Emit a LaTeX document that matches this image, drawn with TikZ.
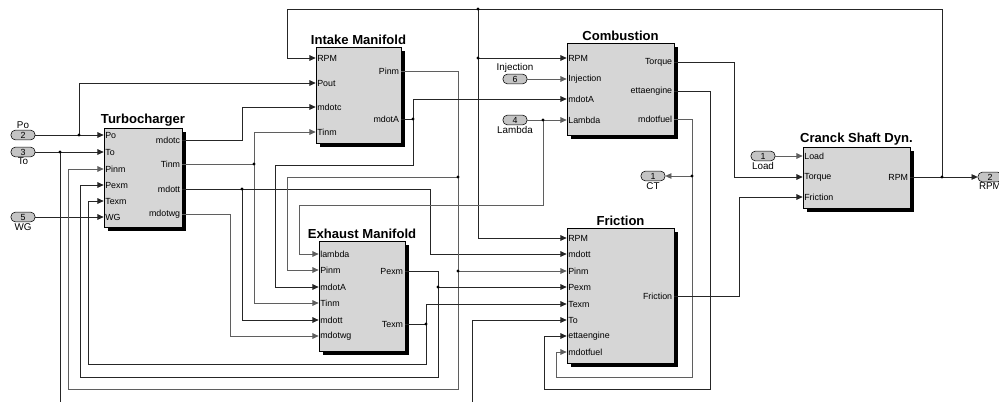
\documentclass[tikz,border=0pt]{standalone}
\usepackage{fontspec}
\setmainfont{Liberation Sans}
\usepackage{tikz}
\usetikzlibrary{arrows.meta, positioning, shadows}
\definecolor{grisBloque}{RGB}{214,214,214}
\definecolor{grisPuerto}{RGB}{196,196,196}
\definecolor{grisLinea}{RGB}{95,95,95}

\tikzset{
  bloque/.style={draw=black, fill=grisBloque, line width=0.5pt, inner sep=0pt,
    drop shadow={shadow xshift=2.6pt, shadow yshift=-2.6pt, opacity=1, fill=black}},
  titulo/.style={font=\bfseries\fontsize{9.3}{10}\selectfont, inner sep=1pt},
  ent/.style={anchor=west, inner sep=1pt, font=\fontsize{6.3}{7}\selectfont},
  sal/.style={anchor=east, inner sep=1.4pt, font=\fontsize{6.3}{7}\selectfont},
  puerto/.style={draw=black, fill=grisPuerto, rounded corners=3pt, minimum width=0.6cm,
    minimum height=0.24cm, inner sep=0pt, font=\fontsize{6.3}{7}\selectfont},
  etiq/.style={font=\fontsize{7}{8}\selectfont, inner sep=0.6pt},
  cable/.style={draw=black!85, line width=0.6pt},
  cablegris/.style={draw=grisLinea, line width=0.6pt},
  flecha/.style={-{Triangle[length=4.4pt,width=4pt]}},
}

\begin{document}
\begin{tikzpicture}[x=0.025cm, y=-0.025cm]
  \useasboundingbox (0,0) rectangle (999,401);

  % Bloques
  \node[bloque, minimum width=1.95cm, minimum height=2.475cm,
    label={[titulo]above:Turbocharger}] (tc) at (143,177.5) {};
  \node[bloque, minimum width=2.125cm, minimum height=2.4cm,
    label={[titulo]above:Intake Manifold}] (im) at (358.5,95) {};
  \node[bloque, minimum width=2.15cm, minimum height=2.75cm,
    label={[titulo]above:Exhaust Manifold}] (em) at (362,296) {};
  \node[bloque, minimum width=2.675cm, minimum height=2.3cm,
    label={[titulo]above:Combustion}] (cb) at (620.5,89) {};
  \node[bloque, minimum width=2.675cm, minimum height=3.375cm,
    label={[titulo]above:Friction}] (fr) at (620.5,295.5) {};
  \node[bloque, minimum width=2.675cm, minimum height=1.525cm,
    label={[titulo]above:Cranck Shaft Dyn.}] (cs) at (856.5,177.5) {};

  % Puertos de los bloques
  \foreach \nm/\yy in {Po/135, To/152, Pinm/169, Pexm/185, Texm/201, WG/217}
    \node[ent] (tc-\nm) at (tc.west |- 0,\yy) {\nm};
  \foreach \nm/\yy in {mdotc/140, Tinm/164, mdott/189, mdotwg/214}
    \node[sal] (tc-\nm) at (tc.east |- 0,\yy) {\nm};
  \foreach \nm/\yy in {RPM/58, Pout/83, mdotc/107, Tinm/132}
    \node[ent] (im-\nm) at (im.west |- 0,\yy) {\nm};
  \foreach \nm/\yy in {Pinm/71, mdotA/119}
    \node[sal] (im-\nm) at (im.east |- 0,\yy) {\nm};
  \foreach \nm/\yy in {lambda/254, Pinm/270, mdotA/287, Tinm/303, mdott/320, mdotwg/336}
    \node[ent] (em-\nm) at (em.west |- 0,\yy) {\nm};
  \foreach \nm/\yy in {Pexm/271, Texm/324}
    \node[sal] (em-\nm) at (em.east |- 0,\yy) {\nm};
  \foreach \nm/\yy in {RPM/58, Injection/79, mdotA/99, Lambda/120}
    \node[ent] (cb-\nm) at (cb.west |- 0,\yy) {\nm};
  \foreach \nm/\yy in {Torque/62, ettaengine/91, mdotfuel/119}
    \node[sal] (cb-\nm) at (cb.east |- 0,\yy) {\nm};
  \foreach \nm/\yy in {RPM/238, mdott/254, Pinm/271, Pexm/287, Texm/304, To/320, ettaengine/336, mdotfuel/352}
    \node[ent] (fr-\nm) at (fr.west |- 0,\yy) {\nm};
  \node[sal] (fr-Friction) at (fr.east |- 0,296) {Friction};
  \foreach \nm/\yy in {Load/156, Torque/177, Friction/197}
    \node[ent] (cs-\nm) at (cs.west |- 0,\yy) {\nm};
  \node[sal] (cs-RPM) at (cs.east |- 0,177) {RPM};

  % Entradas y salidas externas
  \node[puerto, label={[etiq]above:Po}] (in-po) at (23,135) {2};
  \node[puerto, label={[etiq]below:To}] (in-to) at (23,152) {3};
  \node[puerto, label={[etiq]below:WG}] (in-wg) at (23,217) {5};
  \node[puerto, label={[etiq]above:Injection}] (in-inj) at (515,79) {6};
  \node[puerto, label={[etiq]below:Lambda}] (in-lam) at (515,120) {4};
  \node[puerto, label={[etiq]below:Load}] (in-load) at (763,156) {1};
  \node[puerto, label={[etiq]below:CT}] (out-ct) at (653,176) {1};
  \node[puerto, label={[etiq]below:RPM}] (out-rpm) at (990,177) {2};

  % Nudos
  \coordinate (jPo) at (79,135);
  \coordinate (jTo) at (60,152);
  \coordinate (finTo) at (60,405);
  \coordinate (finToB) at (472,405);
  \coordinate (jTinm) at (254,164);
  \coordinate (jMdott) at (242,189);
  \coordinate (jPinmA) at (458,177);
  \coordinate (jPinmB) at (458,271);
  \coordinate (jMdotA) at (413,119);
  \coordinate (jRpm) at (942,177);
  \coordinate (jRpmA) at (478,9);
  \coordinate (jRpmB) at (478,58);
  \coordinate (jLam) at (543,120);
  \coordinate (jFuel) at (692,176);
  \coordinate (jPexm) at (438,287);
  \coordinate (jTexm) at (426,324);

  % Turbocharger
  \draw[cable, flecha] (in-po) -- (tc-Po.west);
  \draw[cable, flecha] (jPo) |- (im-Pout.west);
  \draw[cable, flecha] (in-to) -- (tc-To.west);
  \draw[cable] (jTo) -- (finTo);
  \draw[cable, flecha] (in-wg) -- (tc-WG.west);
  \draw[cable, flecha] (tc-mdotc.east) -- (242,140) |- (im-mdotc.west);
  \draw[cablegris] (tc-Tinm.east) -- (jTinm);
  \draw[cablegris, flecha] (jTinm) |- (im-Tinm.west);
  \draw[cablegris, flecha] (jTinm) |- (em-Tinm.west);
  \draw[cable, flecha] (tc-mdott.east) -- (430,189) |- (fr-mdott.west);
  \draw[cable, flecha] (jMdott) |- (em-mdott.west);
  \draw[cablegris, flecha] (tc-mdotwg.east) -- (230,214) |- (em-mdotwg.west);

  % Intake Manifold
  \draw[cablegris] (im-Pinm.east) -| (jPinmA);
  \draw[cablegris, flecha] (jPinmA) -- (287,177) |- (em-Pinm.west);
  \draw[cablegris, flecha] (jPinmB) -- (fr-Pinm.west);
  \draw[cablegris, flecha] (jPinmA) -- (458,389) -- (68,389) |- (tc-Pinm.west);
  \draw[cable, flecha] (im-mdotA.east) -- (jMdotA) |- (cb-mdotA.west);
  \draw[cable, flecha] (jMdotA) -- (413,165) -- (275,165) |- (em-mdotA.west);

  % RPM
  \draw[cable, flecha] (cs-RPM.east) -- (out-rpm);
  \draw[cable, flecha] (jRpm) -- (942,9) -- (287,9) |- (im-RPM.west);
  \draw[cable] (jRpmA) -- (jRpmB);
  \draw[cable, flecha] (jRpmB) -- (cb-RPM.west);
  \draw[cable, flecha] (jRpmB) |- (fr-RPM.west);

  % Combustion
  \draw[cablegris, flecha] (in-inj) -- (cb-Injection.west);
  \draw[cablegris, flecha] (in-lam) -- (cb-Lambda.west);
  \draw[cablegris, flecha] (jLam) -- (543,205) -- (299,205) |- (em-lambda.west);
  \draw[cable, flecha] (cb-Torque.east) -- (734,62) |- (cs-Torque.west);
  \draw[cable, flecha] (cb-ettaengine.east) -- (710,91) -- (710,389) -- (544,389) |- (fr-ettaengine.west);
  \draw[cablegris] (cb-mdotfuel.east) -| (jFuel);
  \draw[cablegris, flecha] (jFuel) -- (out-ct);
  \draw[cablegris, flecha] (jFuel) -- (692,377) -- (556,377) |- (fr-mdotfuel.west);

  % Exhaust Manifold
  \draw[cable] (em-Pexm.east) -| (jPexm);
  \draw[cable, flecha] (jPexm) -- (fr-Pexm.west);
  \draw[cable, flecha] (jPexm) -- (438,377) -- (80,377) |- (tc-Pexm.west);
  \draw[cable] (em-Texm.east) -- (jTexm);
  \draw[cable, flecha] (jTexm) |- (fr-Texm.west);
  \draw[cable, flecha] (jTexm) -- (426,364) -- (88,364) |- (tc-Texm.west);

  % Friction y cigüeñal
  \draw[cable, flecha] (finToB) |- (fr-To.west);
  \draw[cablegris, flecha] (in-load) -- (cs-Load.west);
  \draw[cable, flecha] (fr-Friction.east) -- (739,296) |- (cs-Friction.west);

  \foreach \j in {jPo, jTo, jTinm, jMdott, jPinmA, jPinmB, jMdotA, jRpm, jRpmA, jRpmB, jLam, jFuel, jPexm, jTexm}
    \fill (\j) circle (1.1pt);
\end{tikzpicture}
\end{document}
